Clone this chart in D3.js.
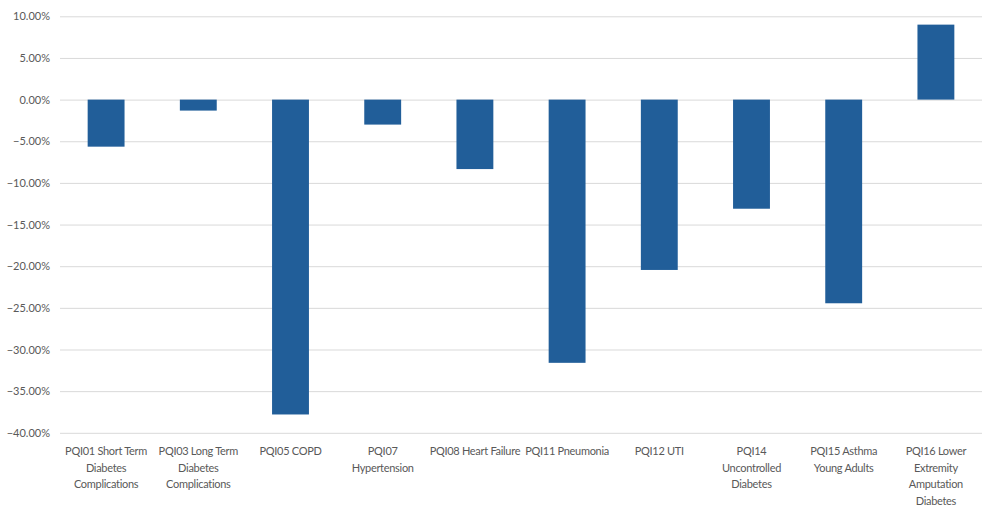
<!DOCTYPE html>
<html>
<head>
<meta charset="utf-8">
<script src="https://cdn.jsdelivr.net/npm/d3@7"></script>
<style>
  html, body { margin: 0; padding: 0; background: #ffffff; }
  svg { display: block; }
  text { font-family: Lato, "Open Sans", sans-serif; fill: #595959; }
</style>
</head>
<body>
<svg id="chart" width="992" height="508"></svg>
<script>
// PQI rate change by indicator
const categories = [
  "PQI01 Short Term Diabetes Complications",
  "PQI03 Long Term Diabetes Complications",
  "PQI05 COPD",
  "PQI07 Hypertension",
  "PQI08 Heart Failure",
  "PQI11 Pneumonia",
  "PQI12 UTI",
  "PQI14 Uncontrolled Diabetes",
  "PQI15 Asthma Young Adults",
  "PQI16 Lower Extremity Amputation Diabetes"
];
// Wrapped axis label lines for each category
const labelLines = [
  ["PQI01 Short Term", "Diabetes", "Complications"],
  ["PQI03 Long Term", "Diabetes", "Complications"],
  ["PQI05 COPD"],
  ["PQI07", "Hypertension"],
  ["PQI08 Heart Failure"],
  ["PQI11 Pneumonia"],
  ["PQI12 UTI"],
  ["PQI14", "Uncontrolled", "Diabetes"],
  ["PQI15 Asthma", "Young Adults"],
  ["PQI16 Lower", "Extremity", "Amputation", "Diabetes"]
];
const values = [-0.0565, -0.0132, -0.378, -0.030, -0.0834, -0.316, -0.2045, -0.131, -0.2445, 0.090];
const yTicks = [0.10, 0.05, 0.00, -0.05, -0.10, -0.15, -0.20, -0.25, -0.30, -0.35, -0.40];

const svg = d3.select("#chart");
const plotLeft = 60, plotRight = 982, plotTop = 16.3, plotBottom = 432.8;

const x = d3.scaleBand()
  .domain(categories)
  .range([plotLeft, plotRight])
  .paddingInner(0.6)
  .paddingOuter(0.3);

const y = d3.scaleLinear()
  .domain([-0.40, 0.10])
  .range([plotBottom, plotTop]);

// Horizontal gridlines with percentage labels
const yAxis = d3.axisLeft(y)
  .tickValues(yTicks)
  .tickFormat(d3.format(".2%"))
  .tickSize(-(plotRight - plotLeft))
  .tickPadding(10);

const gy = svg.append("g")
  .attr("transform", `translate(${plotLeft},0)`)
  .call(yAxis);
gy.select(".domain").remove();
gy.selectAll(".tick line").attr("stroke", "#d9d9d9").attr("stroke-width", 1);
gy.selectAll(".tick text")
  .style("font-size", "11px")
  .attr("fill", "#595959");

// Bars
svg.append("g")
  .selectAll("rect")
  .data(values)
  .join("rect")
  .attr("x", (d, i) => x(categories[i]))
  .attr("width", x.bandwidth())
  .attr("y", d => y(Math.max(0, d)))
  .attr("height", d => Math.abs(y(d) - y(0)))
  .attr("fill", "#215e99");

// Category labels below the plot
const gx = svg.append("g");
labelLines.forEach((lines, i) => {
  const cx = x(categories[i]) + x.bandwidth() / 2;
  const t = gx.append("text")
    .attr("text-anchor", "middle")
    .style("font-size", "11px")
    .style("letter-spacing", "-0.3px");
  lines.forEach((ln, j) => {
    t.append("tspan")
      .attr("x", cx)
      .attr("y", 455 + j * 16.7)
      .text(ln);
  });
});
</script>
</body>
</html>
